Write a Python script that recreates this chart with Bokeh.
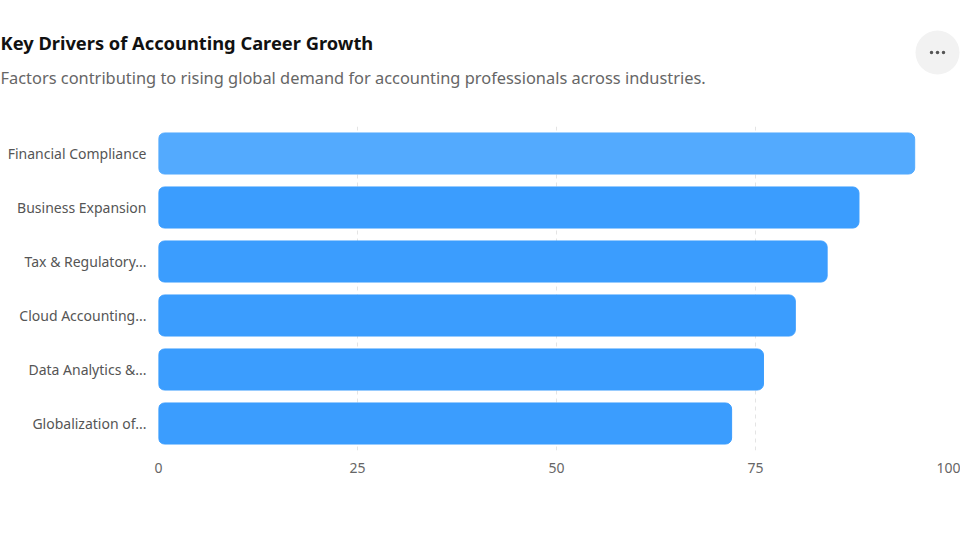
from bokeh.plotting import figure
from bokeh.layouts import column, row
from bokeh.models import FixedTicker, Range1d
from bokeh.core.properties import value
from bokeh.embed import file_html
from bokeh.resources import INLINE

# Data
drivers = [
    "Financial Compliance",
    "Business Expansion",
    "Tax & Regulatory...",
    "Cloud Accounting...",
    "Data Analytics &...",
    "Globalization of...",
]
scores = [95, 88, 84, 80, 76, 72]
x_ticks = [0, 25, 50, 75, 100]

title_text = "Key Drivers of Accounting Career Growth"
subtitle_text = ("Factors contributing to rising global demand for "
                 "accounting professionals across industries.")

FONT = "Noto Sans"
BAR = "#3b9dfe"
BAR_HI = "#53aafe"
colors = [BAR_HI] + [BAR] * (len(drivers) - 1)

W = 960
HEADER_H = 120

# ---- header: title, subtitle and menu button, drawn in pixel space ----
hdr = figure(
    width=W, height=HEADER_H,
    x_range=Range1d(0, W), y_range=Range1d(0, HEADER_H),
    x_axis_location=None, y_axis_location=None,
    output_backend="svg", toolbar_location=None,
    min_border=0, min_border_left=0, min_border_right=0,
    min_border_top=0, min_border_bottom=0,
)
hdr.outline_line_color = None
hdr.grid.grid_line_color = None

hdr.text(x=[0], y=[HEADER_H - 42], text=[title_text],
         text_font=value(FONT), text_font_size="18.3px", text_font_style="bold",
         text_color="#111111", text_baseline="middle", text_align="left")
hdr.text(x=[0], y=[HEADER_H - 77], text=[subtitle_text],
         text_font=value(FONT), text_font_size="16.4px",
         text_color="#666666", text_baseline="middle", text_align="left")
hdr.scatter(x=[937], y=[HEADER_H - 52], size=44, marker="circle",
            fill_color="#f2f2f2", line_color=None)
hdr.scatter(x=[931, 937, 943], y=[HEADER_H - 52] * 3, size=3.5,
            marker="circle", fill_color="#555555", line_color=None)

# ---- main bar chart ----
p = figure(
    width=W, height=540 - HEADER_H,
    y_range=list(reversed(drivers)),
    x_range=Range1d(0, 100),
    output_backend="svg",
    toolbar_location=None,
    min_border_left=158, min_border_right=6,
    min_border_top=6, min_border_bottom=90,
)
p.outline_line_color = None

p.hbar(y=drivers, right=scores, left=0, height=0.76,
       fill_color=colors, line_color=colors, border_radius=6)

p.xaxis.ticker = FixedTicker(ticks=x_ticks)
for ax in (p.xaxis[0], p.yaxis[0]):
    ax.axis_line_color = None
    ax.major_tick_line_color = None
    ax.minor_tick_line_color = None
    ax.major_tick_out = 0
    ax.major_tick_in = 0
    ax.minor_tick_out = 0
    ax.major_label_text_font = FONT
    ax.major_label_text_font_size = "14px"
p.xaxis.major_label_text_color = "#666666"
p.yaxis.major_label_text_color = "#555555"
p.xaxis.major_label_standoff = 12
p.yaxis.major_label_standoff = 12

p.ygrid.grid_line_color = None
p.xgrid.grid_line_color = "#e4e4e4"
p.xgrid.grid_line_dash = "4 4"
p.xgrid.grid_line_width = 1

layout = column(row(hdr), p, spacing=0)
open("out.html", "w").write(file_html(layout, INLINE))
